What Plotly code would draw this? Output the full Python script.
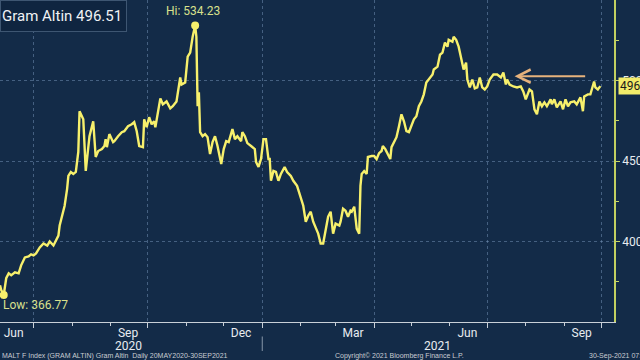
import pandas as pd
import plotly.graph_objects as go

# ---- data ----
start_date = "2020-06-04"
day_index = [0,1,3,5,7,9,12,15,17,20,23,25,27,29,32,35,38,40,43,45,47,48,50,52,54,55,57,59,61,63,64,66,67,69,71,72,75,77,79,82,84,85,86,88,91,92,95,98,100,103,106,108,110,112,115,116,118,120,122,124,125,127,129,131,134,137,139,142,145,146,149,151,153,155,157,158,159,160,161,163,165,167,169,171,173,175,177,178,180,182,184,186,187,189,191,194,195,197,199,202,205,206,208,210,212,214,216,217,218,220,222,224,226,229,231,234,236,239,241,244,246,248,250,252,256,258,260,262,264,266,268,270,273,274,276,278,280,282,283,285,287,289,290,291,293,295,296,299,301,303,305,307,308,310,312,314,315,317,319,321,323,325,327,329,331,333,335,337,339,341,343,345,348,349,352,354,356,358,360,361,364,365,367,369,371,373,375,376,378,380,382,384,386,388,390,392,394,397,400,402,403,405,407,408,410,413,416,419,421,423,426,428,430,432,434,436,438,440,443,444,446,448,451,453,455,457,459,462,464,467,469,470,473,475,477,478,479,481,483]
gram_altin = [372.8,369.8,366.77,377.2,380.2,379.0,380.9,380.2,385.2,390.1,390.7,392.0,391.4,392.6,396.3,398.8,397.5,400.0,397.5,400.6,403.7,409.9,416.0,422.2,432.7,440.7,443.2,442.0,443.2,455.6,480.9,477.2,475.9,443.8,457.4,465.4,474.7,452.5,456.2,457.4,459.3,463.6,458.6,466.7,461.7,462.3,465.4,467.9,468.5,471.6,472.8,474.1,468.5,459.3,458.6,475.9,471.0,477.2,472.8,474.7,471.0,480.9,488.9,485.2,487.0,482.7,484.0,487.0,501.9,497.5,498.8,514.8,517.3,527.2,534.23,527.2,484.0,492.6,467.9,465.4,466.7,464.8,454.3,461.7,465.4,459.3,453.1,448.1,457.4,462.3,461.7,467.9,469.8,463.6,465.4,462.3,467.9,465.4,461.1,459.3,457.4,449.4,446.3,451.2,463.6,463.6,451.2,451.2,437.7,443.8,443.2,437.7,442.0,446.3,443.2,440.7,437.7,434.6,429.6,422.2,412.3,416.0,418.5,412.3,404.9,398.8,398.8,408.0,415.4,418.5,404.9,411.1,409.9,412.3,420.4,419.1,415.4,419.1,418.5,421.6,408.0,404.9,434.6,442.0,443.8,442.0,452.5,453.1,453.1,451.2,454.9,456.2,459.3,457.4,454.3,451.2,458.6,461.7,464.8,471.6,479.0,474.7,468.5,467.9,471.6,475.9,477.8,484.0,487.0,491.4,498.8,500.6,503.7,506.8,508.6,516.0,517.3,523.5,521.0,525.3,524.1,527.2,525.3,521.0,514.8,506.8,511.1,500.6,495.7,500.6,495.1,495.7,501.9,495.7,494.4,496.3,500.6,503.7,503.7,502.5,501.9,504.9,497.5,500.6,497.5,496.3,495.7,496.3,493.2,488.3,494.4,493.2,482.1,479.0,487.0,484.0,486.4,484.0,488.3,485.2,488.3,483.3,487.0,482.1,488.3,484.0,486.4,487.0,485.2,489.5,480.9,490.1,491.4,491.4,497.5,499.4,495.7,494.4,496.51]

x_tick_dates = ["2020-06-15", "2020-09-15", "2020-12-15", "2021-03-15", "2021-06-15", "2021-09-15"]
x_tick_labels = ["Jun", "Sep", "Dec", "Mar", "Jun", "Sep"]
year_dates = ["2020-09-15", "2021-05-22"]
year_labels = ["2020", "2021"]
y_tick_vals = [400, 450, 500]
y_tick_labels = ["400.00", "450.00", "500.00"]
arrow_from = ("2021-09-19", 502.7)
arrow_to = ("2021-07-23", 502.7)
x_range = ["2020-06-04", "2021-10-11"]
y_range = [350, 550]

dates = pd.Timestamp(start_date) + pd.to_timedelta(day_index, unit="D")
s = pd.Series(gram_altin, index=dates)
hi_d, hi_v = s.idxmax(), s.max()
lo_d, lo_v = s.idxmin(), s.min()
last_d, last_v = s.index[-1], s.iloc[-1]

BG = "#132b48"
LINE = "#f7f06c"
GRID = "rgba(120,150,185,0.5)"
TXT = "#e8ecf0"
FONT = "Roboto"

fig = go.Figure()
fig.add_trace(go.Scatter(x=dates, y=gram_altin, mode="lines",
                         line=dict(color=LINE, width=2.4), hoverinfo="skip"))
fig.add_trace(go.Scatter(x=[hi_d, lo_d], y=[hi_v, lo_v], mode="markers",
                         marker=dict(color=LINE, size=8), cliponaxis=False, hoverinfo="skip"))

fig.update_layout(
    width=640, height=360,
    margin=dict(l=0, r=26, t=0, b=38, autoexpand=False),
    paper_bgcolor=BG, plot_bgcolor=BG,
    showlegend=False,
    font=dict(family=FONT, color=TXT, size=12),
    xaxis=dict(type="date", range=x_range, tickmode="array", automargin=False,
               tickvals=x_tick_dates, ticktext=x_tick_labels,
               ticks="", showgrid=False, showline=True,
               linecolor="#c9d0d8", linewidth=1, zeroline=False,
               tickfont=dict(size=12, color=TXT, family=FONT)),
    xaxis2=dict(type="date", range=x_range, overlaying="x", anchor="y",
                side="bottom", showticklabels=False, automargin=False,
                tick0="2020-07-01", dtick="M3", ticks="outside", ticklen=5,
                tickcolor="#c9d0d8", showgrid=True, gridcolor=GRID,
                griddash="dot", gridwidth=1,
                minor=dict(dtick="M1", tick0="2020-06-01", ticks="outside",
                           ticklen=3, tickcolor="#c9d0d8", showgrid=False)),
    yaxis=dict(range=y_range, side="right", tickmode="array", automargin=False,
               tickvals=y_tick_vals, ticktext=y_tick_labels,
               ticks="outside", ticklen=4, tickcolor="#c9d86a",
               showline=True, linecolor="#c2d060", linewidth=1.5,
               showgrid=True, gridcolor=GRID, griddash="dot", zeroline=False,
               tickfont=dict(size=12, color=TXT, family=FONT),
               minor=dict(tickvals=[375, 425, 475, 525], ticks="outside",
                          ticklen=3, tickcolor="#c9d86a", showgrid=False)),
)
# invisible trace to activate xaxis2
fig.add_trace(go.Scatter(x=[dates[0]], y=[gram_altin[0]], xaxis="x2", mode="markers",
                         marker=dict(opacity=0), hoverinfo="skip"))

ann = []
# title box
ann.append(dict(xref="paper", yref="paper", x=0, y=1, xanchor="left", yanchor="top",
                text=f"Gram Altin {last_v:.2f}", showarrow=False,
                font=dict(size=15, color="#f0f2f5", family=FONT),
                bgcolor="#0f2540", bordercolor="#3e5672", borderwidth=1,
                width=123, height=28, align="left", borderpad=1))
# hi / low
ann.append(dict(x=hi_d, y=hi_v, text=f"Hi: {hi_v:.2f}", showarrow=False,
                xanchor="center", yanchor="bottom", yshift=5, xshift=-2,
                font=dict(size=12, color="#d9e08c", family=FONT)))
ann.append(dict(x=lo_d, y=lo_v, text=f"Low: {lo_v:.2f}", showarrow=False,
                xanchor="left", yanchor="top", yshift=-1, xshift=-3,
                font=dict(size=12, color="#d9e08c", family=FONT)))
# last value tag
ann.append(dict(xref="paper", x=1, y=last_v, yref="y", text=f"{last_v:.2f}",
                showarrow=False, xanchor="left", xshift=4,
                font=dict(size=12, color="#1a1a1a", family=FONT),
                bgcolor="#f2ec6a", borderpad=1))
# arrow
ann.append(dict(x=arrow_to[0], y=arrow_to[1], ax=arrow_from[0], ay=arrow_from[1],
                xref="x", yref="y", axref="x", ayref="y", text="",
                showarrow=True, arrowhead=5, arrowsize=1.3, arrowwidth=2,
                arrowcolor="#e6b27c"))
# years
for d, t in zip(year_dates, year_labels):
    ann.append(dict(x=d, xref="x", yref="paper", y=-0.074, text=t, showarrow=False,
                    yanchor="middle", font=dict(size=12, color=TXT, family=FONT)))
# footer
FOOT = dict(size=7, color="#c8ccd2", family="Liberation Sans")
ann.append(dict(xref="paper", yref="paper", x=0, y=-0.105, xanchor="left", yanchor="middle",
                text="MALT F Index (GRAM ALTIN) Gram Altin  Daily 20MAY2020-30SEP2021",
                showarrow=False, font=FOOT))
ann.append(dict(xref="paper", yref="paper", x=0.651, y=-0.105, xanchor="center", yanchor="middle",
                text="Copyright© 2021 Bloomberg Finance L.P.",
                showarrow=False, font=FOOT))
ann.append(dict(xref="paper", yref="paper", x=0.956, y=-0.105, xanchor="left", yanchor="middle",
                text="30-Sep-2021 07:53",
                showarrow=False, font=FOOT))
fig.update_layout(annotations=ann)

# year separator
fig.add_shape(type="line", xref="x", yref="paper", x0="2021-01-01", x1="2021-01-01",
              y0=-0.045, y1=-0.09, line=dict(color="#8796a8", width=1))

fig.write_html("out.html")
